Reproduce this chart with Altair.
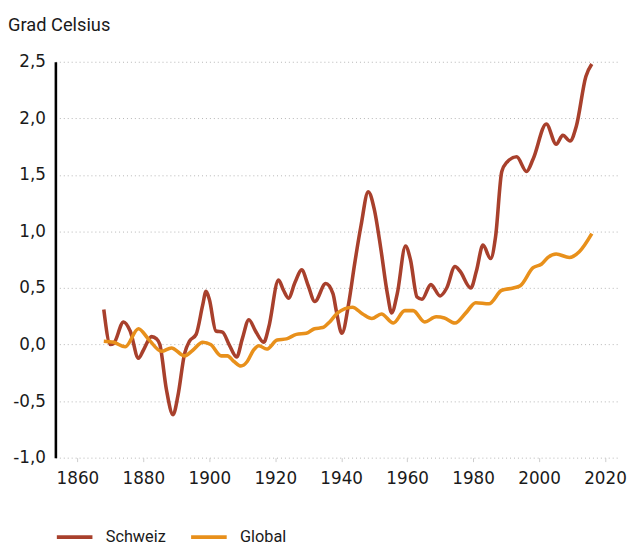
import altair as alt
import pandas as pd

# ---- data ----
ch_years = [1868, 1870, 1871, 1874, 1876, 1878.5, 1880, 1882.5, 1884, 1885, 1887, 1889, 1890.5,
            1892.5, 1894, 1896, 1898, 1899, 1900, 1902, 1904, 1906, 1908.3, 1910, 1912, 1914,
            1916.5, 1918, 1921, 1922.5, 1924, 1926, 1928, 1930, 1932, 1935.3, 1937.5, 1938.5,
            1940.2, 1942.3, 1944, 1946, 1948.2, 1950, 1952, 1954, 1955.3, 1957, 1959.5, 1961,
            1963, 1964.5, 1967.2, 1970, 1972, 1974.5, 1976, 1979.3, 1981, 1983, 1985.3, 1986.8,
            1988.7, 1990.2, 1993.2, 1996.2, 1998.2, 2002.2, 2005.2, 2007.2, 2009.4, 2011.3,
            2014.2, 2016]
ch_vals = [0.31, 0.00, 0.01, 0.20, 0.12, -0.12, -0.05, 0.07, 0.05, 0.00, -0.40, -0.62, -0.45,
           -0.08, 0.03, 0.09, 0.35, 0.47, 0.40, 0.12, 0.11, 0.00, -0.11, 0.05, 0.22, 0.12,
           0.02, 0.15, 0.57, 0.48, 0.41, 0.55, 0.66, 0.52, 0.38, 0.54, 0.45, 0.30,
           0.10, 0.37, 0.70, 1.05, 1.35, 1.20, 0.85, 0.45, 0.28, 0.45, 0.87, 0.75,
           0.42, 0.40, 0.53, 0.43, 0.50, 0.69, 0.65, 0.50, 0.65, 0.88, 0.76, 0.95,
           1.53, 1.61, 1.66, 1.53, 1.64, 1.95, 1.77, 1.85, 1.80, 1.93,
           2.37, 2.48]

gl_years = [1868, 1871, 1874.5, 1878.5, 1881.5, 1885.5, 1888.5, 1892.5, 1895, 1898, 1900.4,
            1903.6, 1905.5, 1907.5, 1909.6, 1911.5, 1913.4, 1915, 1917.4, 1920.6, 1923.4,
            1926.4, 1929.4, 1931.9, 1934.4, 1936.5, 1938.9, 1943.4, 1946.5, 1949.3, 1952.2,
            1955.8, 1959.3, 1961.8, 1965.3, 1968.8, 1971.3, 1974.5, 1977.8, 1980.8, 1984.8,
            1988.7, 1992.2, 1994.3, 1998.2, 2000.7, 2002.7, 2005.2, 2009.2, 2012.2, 2016]
gl_vals = [0.03, 0.02, -0.02, 0.14, 0.05, -0.06, -0.03, -0.10, -0.05, 0.02, 0.00,
           -0.10, -0.10, -0.15, -0.19, -0.15, -0.05, -0.01, -0.04, 0.04, 0.05,
           0.09, 0.10, 0.14, 0.15, 0.20, 0.28, 0.33, 0.27, 0.23, 0.27,
           0.19, 0.30, 0.30, 0.20, 0.245, 0.235, 0.19, 0.28, 0.37, 0.36,
           0.48, 0.50, 0.52, 0.68, 0.71, 0.77, 0.80, 0.77, 0.82, 0.98]

series_names = ["Schweiz", "Global"]
series_colors = ["#a8402c", "#e8901b"]
y_ticks = [-1.0, -0.5, 0.0, 0.5, 1.0, 1.5, 2.0, 2.5]
x_ticks = [1860, 1880, 1900, 1920, 1940, 1960, 1980, 2000, 2020]
y_title = "Grad Celsius"

df = pd.concat([
    pd.DataFrame({"year": ch_years, "value": ch_vals, "series": series_names[0], "ord": 0}),
    pd.DataFrame({"year": gl_years, "value": gl_vals, "series": series_names[1], "ord": 1}),
])

NUM_FONT = "DejaVu Sans"
TEXT_FONT = "Roboto"
TXT = "#1a1a1a"

lines = alt.Chart(df).mark_line(strokeWidth=3.6, interpolate="monotone").encode(
    x=alt.X("year:Q",
            scale=alt.Scale(domain=[1853.32, 2024.58], nice=False, zero=False),
            axis=alt.Axis(values=x_ticks, format="d", title=None, domain=False, grid=False,
                          ticks=True, tickColor="#cccccc", tickSize=4, tickWidth=1,
                          labelFontSize=17, labelPadding=9, labelColor=TXT,
                          labelFont=NUM_FONT)),
    y=alt.Y("value:Q",
            scale=alt.Scale(domain=[-1.0, 2.5], nice=False, zero=False),
            axis=alt.Axis(values=y_ticks, title=None, domain=True, domainColor="#000000",
                          domainWidth=2.6, ticks=False, grid=True, gridDash=[1, 3],
                          gridColor="#b5b5b5", gridWidth=1, labelFontSize=17, labelPadding=10,
                          labelColor=TXT, labelFont=NUM_FONT,
                          labelExpr="(datum.value < 0 ? '-' : '') + replace(format(abs(datum.value), '.1f'), '.', ',')")),
    color=alt.Color("series:N",
                    scale=alt.Scale(domain=series_names, range=series_colors),
                    legend=alt.Legend(title=None, orient="none", legendX=-1, legendY=461,
                                      direction="horizontal", symbolType="stroke",
                                      symbolStrokeWidth=4, symbolSize=1300,
                                      labelFontSize=16.5, labelFont=TEXT_FONT, labelColor=TXT,
                                      labelOffset=11, columnPadding=17)),
    detail="ord:N",
)

title = alt.Chart(pd.DataFrame({"t": [y_title]})).mark_text(
    align="left", baseline="middle", fontSize=18.5, font=TEXT_FONT, color=TXT
).encode(x=alt.value(-48), y=alt.value(-37), text="t:N")

chart = alt.layer(lines, title).properties(
    width=572, height=401,
    padding={"left": 48, "top": 51, "right": 8, "bottom": 85},
    autosize=alt.AutoSizeParams(type="none"),
).configure_view(stroke=None)

chart.save("out.html", embed_options={"renderer": "svg", "actions": False})
